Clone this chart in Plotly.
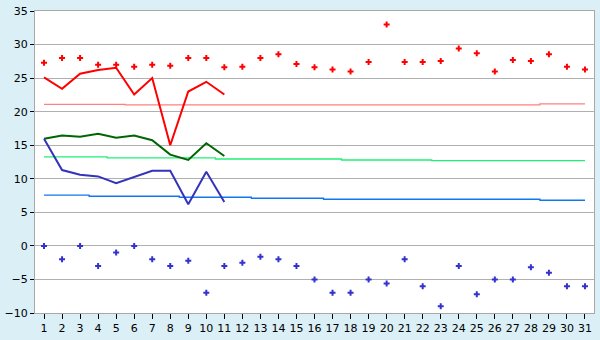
import plotly.graph_objects as go

days = list(range(1, 32))
day_labels = [str(d) for d in days]

# daily records (dots)
record_max = [27.3, 28.0, 28.0, 27.0, 27.0, 26.7, 27.0, 26.85, 28.0, 28.0,
              26.6, 26.7, 28.0, 28.55, 27.1, 26.6, 26.3, 26.0, 27.4, 33.0,
              27.4, 27.4, 27.55, 29.4, 28.7, 26.0, 27.7, 27.55, 28.55, 26.7, 26.3]
record_min = [0, -2, 0, -3, -1, 0, -2, -3, -2.2, -7,
              -3, -2.5, -1.6, -2, -3, -5, -7, -7, -5, -5.6,
              -2, -6, -9, -3, -7.2, -5, -5, -3.2, -4, -6, -6]

# current month (days 1-11)
cur_days = list(range(1, 12))
cur_max = [25.1, 23.4, 25.65, 26.2, 26.55, 22.55, 25.0, 15.0, 23.0, 24.45, 22.55]
cur_mean = [15.95, 16.45, 16.25, 16.7, 16.1, 16.45, 15.75, 13.6, 12.8, 15.3, 13.4]
cur_min = [15.95, 11.3, 10.6, 10.35, 9.35, 10.25, 11.2, 11.2, 6.2, 11.05, 6.55]

# climatological normals
norm_max = [21.1]*5 + [21.0]*23 + [21.15]*3
norm_mean = [13.25]*4 + [13.1]*6 + [12.95]*7 + [12.8]*5 + [12.7]*9
norm_min = [7.55]*3 + [7.4]*5 + [7.25]*4 + [7.1]*4 + [6.95]*12 + [6.8]*3

y_ticks = list(range(-10, 40, 5))

fig = go.Figure()

fig.add_trace(go.Scatter(x=days, y=norm_max, mode="lines", line=dict(color="#ff8080", width=1.3, shape="hvh")))
fig.add_trace(go.Scatter(x=days, y=norm_mean, mode="lines", line=dict(color="#22ee77", width=1.3, shape="hvh")))
fig.add_trace(go.Scatter(x=days, y=norm_min, mode="lines", line=dict(color="#1177ee", width=1.3, shape="hvh")))

fig.add_trace(go.Scatter(x=cur_days, y=cur_max, mode="lines", line=dict(color="#ff0000", width=2)))
fig.add_trace(go.Scatter(x=cur_days, y=cur_mean, mode="lines", line=dict(color="#006600", width=2)))
fig.add_trace(go.Scatter(x=cur_days, y=cur_min, mode="lines", line=dict(color="#3333bb", width=2)))

fig.add_trace(go.Scatter(x=days, y=record_max, mode="markers",
                         marker=dict(symbol="cross", size=5, color="#ff0000", line=dict(width=0))))
fig.add_trace(go.Scatter(x=days, y=record_min, mode="markers",
                         marker=dict(symbol="cross", size=5, color="#3333cc", line=dict(width=0))))

fig.update_layout(
    width=600, height=340,
    margin=dict(l=26, r=5, t=5, b=20),
    paper_bgcolor="#daeff6",
    plot_bgcolor="#ffffff",
    showlegend=False,
    font=dict(family="DejaVu Sans, Verdana, sans-serif", size=11, color="#000000"),
)
fig.update_xaxes(
    range=[0.5, 31.5], tickvals=days, ticktext=day_labels,
    showgrid=False, zeroline=False,
    showline=True, linecolor="#a8a8a8", linewidth=1, mirror=True,
    ticks="outside", ticklen=5, tickcolor="#000000", tickwidth=1,
)
fig.update_yaxes(
    range=[-10, 35], tickvals=y_ticks, ticklabeloverflow="allow",
    showgrid=True, gridcolor="#b0b0b0", gridwidth=1, zeroline=False,
    showline=True, linecolor="#a8a8a8", linewidth=1, mirror=True,
    ticks="outside", ticklen=4, tickcolor="#000000", tickwidth=1,
)

fig.write_html("out.html")
